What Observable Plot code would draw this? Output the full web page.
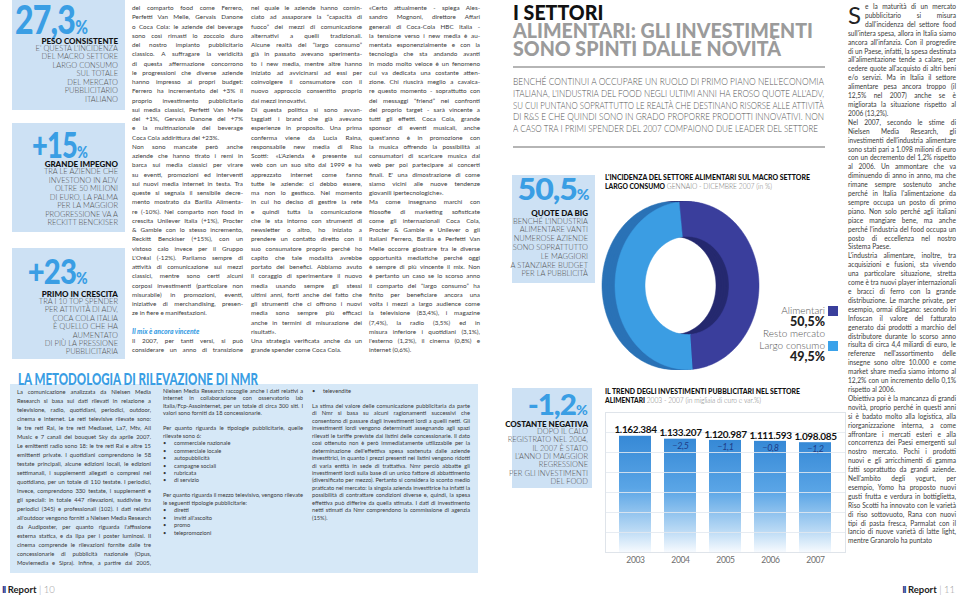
<!DOCTYPE html>
<html lang="it"><head><meta charset="utf-8">
<script src="https://cdn.jsdelivr.net/npm/d3@7"></script>
<script src="https://cdn.jsdelivr.net/npm/@observablehq/plot@0.6"></script>
<style>
html,body{margin:0;padding:0}
body{width:959px;height:602px;overflow:hidden;background:#fff;position:relative;font-family:Lato,"Noto Sans",sans-serif;color:#3a3a3a}
.a{position:absolute;white-space:nowrap}
.box{position:absolute;background:#cde1f4}
.big{position:absolute;font-weight:900;color:#3a9ee4;white-space:nowrap;line-height:0.8;letter-spacing:-1px}
.big small{font-size:48%;letter-spacing:0}
.bh{position:absolute;font-weight:900;color:#111;white-space:nowrap;font-size:8px;line-height:8px;text-align:right}
.bl{position:absolute;white-space:nowrap;font-size:7.5px;color:#555;text-align:right;font-weight:300}
.col{position:absolute;font-size:6.3px;line-height:9.25px;color:#3a3a3a}
.col div{white-space:nowrap;text-align:justify;text-align-last:justify;overflow:visible}
.col div.e{text-align-last:left}
.col div.h{color:#3a9ee4;font-weight:900;font-style:italic;text-align-last:left;font-size:6.8px}
.flow{position:absolute;text-align:justify;color:#3a3a3a}
.flow p{margin:0}
.deck{position:absolute;white-space:nowrap;font-size:9.6px;line-height:11px;color:#555;font-weight:300}
.hl{position:absolute;white-space:nowrap;font-weight:900;line-height:18px;font-size:21px;color:#9b9b9b}
.hl span{color:#111}
.ct{position:absolute;white-space:nowrap;font-size:7.4px;line-height:8px;color:#111}
.ct b{font-weight:900}
.ct span{color:#777;font-weight:300}
.leg{position:absolute;white-space:nowrap;text-align:right;color:#555;font-weight:300;font-size:10px;line-height:11.5px}
.legv{position:absolute;white-space:nowrap;font-weight:900;color:#222;font-size:12.5px;line-height:12px}
.sw{position:absolute;width:10px;height:10px}
.foot{position:absolute;white-space:nowrap;font-size:9.5px;line-height:11px;color:#222}
.foot i{font-style:normal;color:#2b3a8f;font-weight:900;letter-spacing:-1px}
.foot b{font-weight:700}
.foot span{color:#999;font-weight:300}
ul{margin:0;padding:0 0 0 11px;list-style:none}
ul li{position:relative}
ul li:before{content:"•";position:absolute;left:-11px}
.spacer{float:left;width:17px;height:26.7px}
.drop{position:absolute;font-size:24px;line-height:24px;color:#222;font-weight:400}
</style></head><body>

<!-- LEFT PAGE: sidebar boxes -->
<div class="box" style="left:12px;top:0;width:113px;height:110px"></div>
<div class="big" data-fit="73" data-origin="right" style="right:871px;top:3px;font-size:40px">27,3<small>%</small></div>
<div class="bh" style="right:841px;top:37px">PESO CONSISTENTE</div>
<div class="bl" style="right:841px;top:44.5px;line-height:8.5px">E' QUESTA L'INCIDENZA<br>DEL MACRO SETTORE<br>LARGO CONSUMO<br>SUL TOTALE<br>DEL MERCATO<br>PUBBLICITARIO<br>ITALIANO</div>

<div class="box" style="left:12px;top:123px;width:113px;height:109px"></div>
<div class="big" data-fit="56" data-origin="right" style="right:871px;top:129.7px;font-size:36px">+15<small>%</small></div>
<div class="bh" style="right:841px;top:160px">GRANDE IMPEGNO</div>
<div class="bl" style="right:841px;top:168px;line-height:8.5px">TRA LE AZIENDE CHE<br>INVESTONO IN ADV<br>OLTRE 50 MILIONI<br>DI EURO, LA PALMA<br>PER LA MAGGIOR<br>PROGRESSIONE VA A<br>RECKITT BENCKISER</div>

<div class="box" style="left:12px;top:248px;width:113px;height:111px"></div>
<div class="big" data-fit="60" data-origin="right" style="right:871px;top:257px;font-size:34px">+23<small>%</small></div>
<div class="bh" style="right:841px;top:289.5px">PRIMO IN CRESCITA</div>
<div class="bl" style="right:841px;top:298px;line-height:8.4px">TRA I 10 TOP SPENDER<br>PER ATTIVITÀ DI ADV,<br>COCA COLA ITALIA<br>È QUELLO CHE HA<br>AUMENTATO<br>DI PIÙ LA PRESSIONE<br>PUBBLICITARIA</div>

<!-- LEFT PAGE: body columns -->
<div class="col" id="colA" style="left:132px;top:3px;width:111px"></div>
<div class="col" id="colB" style="left:251px;top:3px;width:111px"></div>
<div class="col" id="colC" style="left:369px;top:3px;width:111px"></div>

<!-- METHODOLOGY -->
<div class="a" data-fit="240" style="left:18px;top:372px;font-size:16px;line-height:13px;font-weight:900;color:#3a9ee4">LA METODOLOGIA DI RILEVAZIONE DI NMR</div>
<div class="box" style="left:10px;top:384px;width:468px;height:189px;background:#d6e8f7;z-index:-1"></div>
<div class="col" id="methA" style="left:17px;top:387px;width:134px;font-size:5.8px;line-height:9px"></div>
<div class="flow" style="left:163px;top:387px;width:140px;font-size:5.7px;line-height:7.45px"><p>Nielsen Media Research raccoglie anche i dati relativi a internet in collaborazione con osservatorio lab Italia/Fcp-Assointernet, per un totale di circa 300 siti. I valori sono forniti da 18 concessionarie.</p><p>&nbsp;</p><p>Per quanto riguarda le tipologie pubblicitarie, quelle rilevate sono 6:</p><ul><li>commerciale nazionale</li><li>commerciale locale</li><li>autopubblicità</li><li>campagne sociali</li><li>rubricata</li><li>di servizio</li></ul><p>&nbsp;</p><p>Per quanto riguarda il mezzo televisivo, vengono rilevate le seguenti tipologie pubblicitarie:</p><ul><li>diretti</li><li>inviti all'ascolto</li><li>promo</li><li>telepromozioni</li></ul></div>
<div class="flow" style="left:312px;top:387px;width:158px;font-size:5.7px;line-height:7.45px"><ul><li>televendite</li></ul><p>&nbsp;</p><p>La stima del valore delle comunicazione pubblicitaria da parte di Nmr si basa su alcuni ragionamenti successivi che consentono di passare dagli investimenti lordi a quelli netti. Gli investimenti lordi vengono determinati assegnando agli spazi rilevati le tariffe previste dai listini delle concessionarie. Il dato così ottenuto non è però immediatamente utilizzabile per la determinazione dell'effettiva spesa sostenuta dalle aziende investitrici, in quanto i prezzi presenti nei listini vengono ridotti di varia entità in sede di trattativa. Nmr perciò abbatte gli investimenti lordi sulla base di un unico fattore di abbattimento (diversificato per mezzo). Pertanto si considera lo sconto medio praticato nel mercato: la singola azienda investitrice ha infatti la possibilità di contrattare condizioni diverse e, quindi, la spesa effettiva può differire da quella stimata. I dati di investimento netti stimati da Nmr comprendono la commissione di agenzia (15%).</p></div>

<div class="foot" style="left:2px;top:584px"><i>Il</i> <b>Report</b> <span>| 10</span></div>

<!-- RIGHT PAGE: headline -->
<div class="hl" id="headline" style="left:513px;top:3px"><span>I SETTORI</span><br>ALIMENTARI: GLI INVESTIMENTI<br>SONO SPINTI DALLE NOVITÀ</div>
<div class="a" style="left:513px;top:66px;width:312px;height:1.5px;background:#b5b5b5"></div>
<div class="deck" data-fit="311" style="left:513px;top:76px">BENCHÉ CONTINUI A OCCUPARE UN RUOLO DI PRIMO PIANO NELL'ECONOMIA</div>
<div class="deck" data-fit="311" style="left:513px;top:87.8px">ITALIANA, L'INDUSTRIA DEL FOOD NEGLI ULTIMI ANNI HA EROSO QUOTE ALL'ADV,</div>
<div class="deck" data-fit="311" style="left:513px;top:99.5px">SU CUI PUNTANO SOPRATTUTTO LE REALTÀ CHE DESTINANO RISORSE ALLE ATTIVITÀ</div>
<div class="deck" data-fit="311" style="left:513px;top:111.3px">DI R&amp;S E CHE QUINDI SONO IN GRADO PROPORRE PRODOTTI INNOVATIVI. NON</div>
<div class="deck" data-fit="305" style="left:513px;top:123px">A CASO TRA I PRIMI SPENDER DEL 2007 COMPAIONO DUE LEADER DEL SETTORE</div>
<div class="a" style="left:513px;top:146px;width:312px;height:1.5px;background:#b5b5b5"></div>

<!-- 50,5% box -->
<div class="box" style="left:512px;top:175px;width:83px;height:108px"></div>
<div class="big" data-fit="72" data-origin="right" style="right:369px;top:176px;font-size:31px">50,5<small>%</small></div>
<div class="bh" style="right:371px;top:208.5px">QUOTE DA BIG</div>
<div class="bl" style="right:371px;top:217.6px;line-height:8.8px">BENCHÉ L'INDUSTRIA<br>ALIMENTARE VANTI<br>NUMEROSE AZIENDE<br>SONO SOPRATTUTTO<br>LE MAGGIORI<br>A STANZIARE BUDGET<br>PER LA PUBBLICITÀ</div>

<!-- donut title -->
<div class="ct" data-fit="205" style="left:605px;top:174px"><b>L'INCIDENZA DEL SETTORE ALIMENTARI SUL MACRO SETTORE</b></div>
<div class="ct" data-fit="167" style="left:605px;top:183px"><b>LARGO CONSUMO</b> <span>GENNAIO - DICEMBRE 2007 (in %)</span></div>
<div id="donut" class="a" style="left:584.5px;top:190px"></div>
<div class="leg" style="right:134px;top:305px">Alimentari</div>
<div class="sw" style="left:828px;top:306px;background:#3a3f9c"></div>
<div class="legv" style="right:134px;top:316px">50,5%</div>
<div class="leg" style="right:134px;top:328px">Resto mercato<br>Largo consumo</div>
<div class="sw" style="left:828px;top:341px;background:#3aa2ea"></div>
<div class="legv" style="right:134px;top:351px">49,5%</div>

<!-- -1,2% box -->
<div class="box" style="left:512px;top:388px;width:80px;height:100px"></div>
<div class="big" data-fit="60" data-origin="right" style="right:371px;top:393px;font-size:28px">-1,2<small>%</small></div>
<div class="bh" style="right:371px;top:419.5px">COSTANTE NEGATIVA</div>
<div class="bl" style="right:371px;top:427.8px;line-height:8.4px">DOPO IL CALO<br>REGISTRATO NEL 2004,<br>IL 2007 È STATO<br>L'ANNO DI MAGGIOR<br>REGRESSIONE<br>PER GLI INVESTIMENTI<br>DEL FOOD</div>

<!-- bar chart title -->
<div class="ct" data-fit="195" style="left:605px;top:388px"><b>IL TREND DEGLI INVESTIMENTI PUBBLICITARI NEL SETTORE</b></div>
<div class="ct" data-fit="156" style="left:605px;top:396.5px"><b>ALIMENTARI</b> <span>2003 - 2007 (in migliaia di euro e var.%)</span></div>
<div id="bars" class="a" style="left:605px;top:412px"></div>

<!-- right column -->
<div class="drop" style="left:848px;top:2.5px">S</div>
<div class="flow" style="left:848px;top:2px;width:108px;font-size:6.6px;line-height:8.9px"><p><span class="spacer"></span>e la maturità di un mercato pubblicitario si misura dall'incidenza del settore food sull'intera spesa, allora in Italia siamo ancora all'infanzia. Con il progredire di un Paese, infatti, la spesa destinata all'alimentazione tende a calare, per cedere quote all'acquisto di altri beni e/o servizi. Ma in Italia il settore alimentare pesa ancora troppo (il 12,5% nel 2007) anche se è migliorata la situazione rispetto al 2006 (13,2%).</p><p>Nel 2007, secondo le stime di Nielsen Media Research, gli investimenti dell'industria alimentare sono stati pari a 1.098 milioni di euro con un decremento del 1,2% rispetto al 2006. Un ammontare che va diminuendo di anno in anno, ma che rimane sempre sostenuto anche perché in Italia l'alimentazione da sempre occupa un posto di primo piano. Non solo perché agli italiani piace mangiare bene, ma anche perché l'industria del food occupa un posto di eccellenza nel nostro Sistema Paese.</p><p>L'industria alimentare, inoltre, tra acquisizioni e fusioni, sta vivendo una particolare situazione, stretta come è tra nuovi player internazionali e bracci di ferro con la grande distribuzione. Le marche private, per esempio, ormai dilagano: secondo Iri Infoscan il valore del fatturato generato dai prodotti a marchio del distributore durante lo scorso anno risulta di circa 4,4 miliardi di euro, le referenze nell'assortimento delle insegne sono oltre 10.000 e come market share media siamo intorno al 12,2% con un incremento dello 0,1% rispetto al 2006.</p><p>Obiettiva poi è la mancanza di grandi novità, proprio perché in questi anni si è badato molto alla logistica, alla riorganizzazione interna, a come affrontare i mercati esteri e alla concorrenza dei Paesi emergenti sul nostro mercato. Pochi i prodotti nuovi e gli arricchimenti di gamma fatti soprattutto da grandi aziende. Nell'ambito degli yogurt, per esempio, Yomo ha proposto nuovi gusti frutta e verdura in bottiglietta, Riso Scotti ha innovato con le varietà di riso sottovuoto, Rana con nuovi tipi di pasta fresca, Parmalat con il lancio di nuove varietà di latte light, mentre Granarolo ha puntato</p></div>

<div class="foot" style="right:4px;top:584px"><i>Il</i> <b>Report</b> <span>| 11</span></div>

<script>
// ---------------- DATA ----------------
const donutCategories = ["Alimentari", "Resto mercato Largo consumo"];
const donutShares = [50.5, 49.5];

const years = ["2003", "2004", "2005", "2006", "2007"];
const investments = [1162384, 1133207, 1120987, 1111593, 1098085]; // migliaia di euro
const variations = [null, -2.5, -1.1, -0.8, -1.2];                 // var. %

const colALines = [
"del comparto food come Ferrero,","Perfetti Van Melle, Gervais Danone","o Coca Cola: le aziende del beverage","sono così rimasti lo zoccolo duro","del nostro impianto pubblicitario","classico. A suffragare la veridicità","di questa affermazione concorrono","le progressioni che diverse aziende","hanno impresso ai propri budget:","Ferrero ha incrementato del +3% il","proprio investimento pubblicitario","sui media classici, Perfetti Van Melle","del +1%, Gervais Danone del +7%","e la multinazionale del beverage","Coca Cola addirittura del +23%.|","Non sono mancate però anche","aziende che hanno tirato i remi in","barca sui media classici per virare","su eventi, promozioni ed interventi","sui nuovi media internet in testa. Tra","queste si segnala il sensibile decre-","mento mostrato da Barilla Alimenta-","re (-10%). Nel comparto non food in","crescita Unilever Italia (+1%), Procter","& Gamble con lo stesso incremento,","Reckitt Benckiser (+15%), con un","vistoso calo invece per il Gruppo","L'Oréal (-12%). Parliamo sempre di","attività di comunicazione sui mezzi","classici, mentre sono certi alcuni","corposi investimenti (particolare non","misurabile) in promozioni, eventi,","iniziative di merchandising, presen-","ze in fiere e manifestazioni.|","|","#Il mix è ancora vincente","Il 2007, per tanti versi, si può","considerare un anno di transizione"];
const colBLines = [
"nel quale le aziende hanno comin-","ciato ad assaporare la “capacità di","fuoco” dei mezzi di comunicazione","alternativi a quelli tradizionali.","Alcune realtà del “largo consumo”","già in passato avevano sperimenta-","to i new media, mentre altre hanno","iniziato ad avvicinarsi ad essi per","coinvolgere il consumatore con il","nuovo approccio consentito proprio","dai mezzi innovativi.|","Di questa politica si sono avvan-","taggiati i brand che già avevano","esperienze in proposito. Una prima","conferma viene da Lucia Raina,","responsabile new media di Riso","Scotti: «L'Azienda è presente sul","web con un suo sito dal 1999 e ha","apprezzato internet come fanno","tutte le aziende: ci debbo essere,","ma non lo gestisco. Nel momento","in cui ho deciso di gestire la rete","e quindi tutta la comunicazione","che le sta intorno con strumenti di","newsletter o altro, ho iniziato a","prendere un contatto diretto con il","suo consumatore proprio perché ho","capito che tale modalità avrebbe","portato dei benefici. Abbiamo avuto","il coraggio di sperimentare il nuovo","media usando sempre gli stessi","ultimi anni, forti anche del fatto che","gli strumenti che ci offrono i nuovi","media sono sempre più efficaci","anche in termini di misurazione dei","risultati».|","Una strategia verificata anche da un","grande spender come Coca Cola.|"];
const colCLines = [
"«Certo attualmente - spiega Ales-","sandro Mognoni, direttore Affari","generali di Coca-Cola HBC Italia -","la tensione verso i new media è au-","mentata esponenzialmente e con la","tecnologia che sta andando avanti","in modo molto veloce è un fenomeno","cui va dedicata una costante atten-","zione. Chi riuscirà meglio a cavalca-","re questo momento - soprattutto con","dei messaggi “friend” nei confronti","del proprio target - sarà vincente a","tutti gli effetti. Coca Cola, grande","sponsor di eventi musicali, anche","quest'anno è in promozione con","la musica offrendo la possibilità ai","consumatori di scaricare musica dal","web per poi partecipare ai concerti","finali. E' una dimostrazione di come","siamo vicini alle nuove tendenze","giovanili ipertecnologiche».|","Ma come insegnano marchi con","filosofie di marketing sofisticate","come gli internazionali Coca Cola,","Procter & Gamble e Unilever o gli","italiani Ferrero, Barilla e Perfetti Van","Melle occorre giostrare tra le diverse","opportunità mediatiche perché oggi","è sempre di più vincente il mix. Non","è pertanto un caso se lo scorso anno","il comparto del “largo consumo” ha","finito per beneficiare ancora una","volta i mezzi a largo audience come","la televisione (83,4%), i magazine","(7,4%), la radio (3,5%) ed in","misura inferiore i quotidiani (3,1%),","l'esterno (1,2%), il cinema (0,8%) e","internet (0,6%).|"];
const methALines = [
"La comunicazione analizzata da Nielsen Media","Research si basa sui dati rilevati in relazione a","televisione, radio, quotidiani, periodici, outdoor,","cinema e internet. Le reti televisive rilevate sono:","le tre reti Rai, le tre reti Mediaset, La7, Mtv, All","Music e 7 canali del bouquet Sky da aprile 2007.","Le emittenti radio sono 18: le tre reti Rai e altre 15","emittenti private. I quotidiani comprendono le 58","testate principali, alcune edizioni locali, le edizioni","settimanali, i supplementi allegati o compresi nel","quotidiano, per un totale di 110 testate. I periodici,","invece, comprendono 330 testate, i supplementi e","gli speciali: in totale 447 rilevazioni, suddivise tra","periodici (345) e professionali (102). I dati relativi","all'outdoor vengono forniti a Nielsen Media Research","da Audiposter, per quanto riguarda l'affissione","esterna statica, e da Ilpa per i poster luminosi. Il","cinema comprende le rilevazioni fornite dalle tre","concessionarie di pubblicità nazionale (Opus,","Moviemedia e Sipra). Infine, a partire dal 2005,"];

// ---------------- TEXT COLUMNS ----------------
function fillCol(id, lines) {
  const col = document.getElementById(id);
  for (const raw of lines) {
    const d = document.createElement("div");
    let t = raw;
    if (t.startsWith("#")) { d.className = "h"; t = t.slice(1); }
    else if (t.endsWith("|")) { d.className = "e"; t = t.slice(0, -1); }
    d.textContent = t || "\u00a0";
    col.appendChild(d);
  }
}
fillCol("colA", colALines);
fillCol("colB", colBLines);
fillCol("colC", colCLines);
fillCol("methA", methALines);

// ---------------- DONUT ----------------
const R_OUT = 84, R_IN = 49, XK = 0.857;          // ring radii, horizontal squash (3D view)
const sideOffsets = [-7.6, -4.6, -1.6, 1.4, 4.4], faceOffset = 7.6;
const faceColors = ["#3a3e9c", "#3b9de3"], sideColors = ["#25296f", "#2a72b6"];
const rot = -0.11;
const arcs = d3.pie().sort(null).startAngle(rot).endAngle(rot + 2 * Math.PI)(donutShares);
function slicePoly(arc, cx) {
  const n = 140, pts = [];
  for (let i = 0; i <= n; i++) {
    const a = arc.startAngle + (arc.endAngle - arc.startAngle) * i / n;
    pts.push({x: cx + R_OUT * Math.sin(a), y: R_OUT * Math.cos(a)});
  }
  for (let i = n; i >= 0; i--) {
    const a = arc.startAngle + (arc.endAngle - arc.startAngle) * i / n;
    pts.push({x: cx + R_IN * Math.sin(a), y: R_IN * Math.cos(a)});
  }
  return pts;
}
const donutMarks = [];
for (const off of sideOffsets)
  arcs.forEach((arc, i) => donutMarks.push(Plot.line(slicePoly(arc, off), {x: "x", y: "y", fill: sideColors[i], stroke: sideColors[i], strokeWidth: 0.5, curve: "linear"})));
arcs.forEach((arc, i) => donutMarks.push(Plot.line(slicePoly(arc, faceOffset), {x: "x", y: "y", fill: faceColors[i], stroke: faceColors[i], strokeWidth: 0.5, curve: "linear"})));
const donut = Plot.plot({
  width: 190, height: 190, margin: 0,
  x: {domain: [-95 / XK, 95 / XK], axis: null},
  y: {domain: [-95, 95], axis: null},
  style: {background: "transparent", overflow: "visible"},
  marks: donutMarks
});
document.getElementById("donut").appendChild(donut);

// ---------------- BARS ----------------
const it = d3.formatLocale({decimal: ",", thousands: ".", grouping: [3], currency: ["", "€"]});
const fmtInt = it.format(",d");
const fmtVar = it.format(".1f");
const barData = years.map((y, i) => ({year: y, value: investments[i], change: variations[i]}));
const yDomain = [0, 1400000];
const bars = Plot.plot({
  width: 240, height: 158,
  marginLeft: 0, marginRight: 0, marginTop: 0, marginBottom: 18,
  x: {domain: years, padding: 0.29, tickSize: 0, tickPadding: 4, label: null},
  y: {domain: yDomain, axis: null},
  style: {fontFamily: "Lato, sans-serif", fontSize: "8.5px", color: "#6d6d6d", background: "transparent", overflow: "visible"},
  marks: [
    Plot.barY(barData, {x: "year", y: "value", fill: "url(#barGrad)"}),
    Plot.ruleY(d3.ticks(yDomain[0], yDomain[1], 7), {stroke: "#e3e9f0", strokeOpacity: 0.85}),
    Plot.frame({stroke: "#dfe4ea"}),
    Plot.text(barData, {x: "year", y: "value", text: d => fmtInt(d.value), dy: -6, fontWeight: "bold", fontSize: 10, fill: "#111"}),
    Plot.text(barData.filter(d => d.change != null), {x: "year", y: "value", text: d => fmtVar(d.change), dy: 6.5, fontStyle: "italic", fontSize: 9, fill: "#1e3d88"})
  ]
});
d3.select(bars).selectAll("text").attr("letter-spacing", "-0.35");
d3.select(bars).insert("defs", ":first-child").html(
  `<linearGradient id="barGrad" x1="0" y1="0" x2="0" y2="1">
     <stop offset="0" stop-color="#3689d6"/>
     <stop offset="0.45" stop-color="#5aa5e6"/>
     <stop offset="0.8" stop-color="#b7d8f4"/>
     <stop offset="1" stop-color="#f6fafe"/>
   </linearGradient>`);
document.getElementById("bars").appendChild(bars);

// ---------------- FITTING ----------------
function fitAll() {
  document.querySelectorAll("[data-fit]").forEach(el => {
    el.style.transform = "none";
    const w = +el.dataset.fit, a = el.getBoundingClientRect().width;
    el.style.transformOrigin = (el.dataset.origin || "left") + " center";
    el.style.transform = `scaleX(${w / a})`;
  });
  const hl = document.getElementById("headline");
  hl.style.transform = "none";
  hl.style.transformOrigin = "left top";
  hl.style.transform = `scaleX(${300 / hl.getBoundingClientRect().width})`;
  document.querySelectorAll(".col div").forEach(d => {
    d.style.transform = "none";
    if (d.scrollWidth > d.clientWidth + 0.5) {
      d.style.transformOrigin = "left center";
      d.style.transform = `scaleX(${d.clientWidth / d.scrollWidth})`;
    }
  });
}
fitAll();
if (document.fonts && document.fonts.ready) document.fonts.ready.then(fitAll);
</script>
</body></html>
